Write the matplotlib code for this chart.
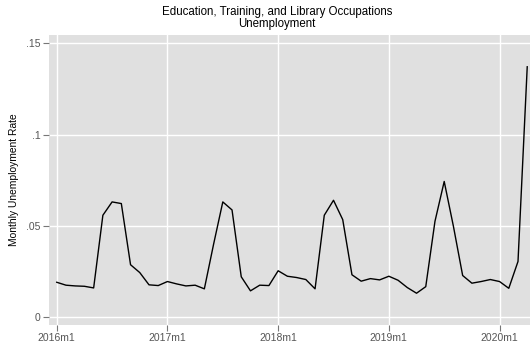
import matplotlib
matplotlib.use("Agg")
import matplotlib.pyplot as plt
import numpy as np

plt.rcParams['font.family'] = ['Liberation Sans', 'DejaVu Sans']

title = "Education, Training, and Library Occupations\nUnemployment"
ylabel = "Monthly Unemployment Rate"
xtick_labels = ["2016m1", "2017m1", "2018m1", "2019m1", "2020m1"]
ytick_values = [0, 0.05, 0.10, 0.15]
ytick_labels = ["0", ".05", ".1", ".15"]

rate = [0.0192, 0.0176, 0.0172, 0.0170, 0.0161, 0.0559, 0.0632, 0.0623,
        0.0288, 0.0245, 0.0178, 0.0174, 0.0196, 0.0183, 0.0172, 0.0176,
        0.0156, 0.0400, 0.0632, 0.0588, 0.0222, 0.0145, 0.0176, 0.0174,
        0.0255, 0.0225, 0.0218, 0.0207, 0.0156, 0.0559, 0.0641, 0.0535,
        0.0233, 0.0198, 0.0212, 0.0205, 0.0225, 0.0203, 0.0163, 0.0132,
        0.0168, 0.0526, 0.0744, 0.0498, 0.0229, 0.0187, 0.0196, 0.0207,
        0.0196, 0.0159, 0.0306, 0.1372]
months = np.arange(len(rate))

fig = plt.figure(figsize=(5.30, 3.47), dpi=100)
ax = fig.add_axes([49/530, 22/347, 481/530, 290/347])
ax.set_facecolor('#e0e0e0')
ax.plot(months, rate, color='black', linewidth=1.0)

ax.set_xlim(-0.84, 51.3)
ax.set_ylim(-0.0042, 0.1546)
ax.set_xticks([0, 12, 24, 36, 48])
ax.set_xticklabels(xtick_labels)
ax.set_yticks(ytick_values)
ax.set_yticklabels(ytick_labels)
ax.grid(True, color='white', linewidth=1.0)
ax.set_axisbelow(True)
for s in ax.spines.values():
    s.set_visible(False)
ax.tick_params(axis='both', colors='#777777', labelcolor='#555555', labelsize=7.5,
               length=4, width=0.8, pad=2)
ax.set_ylabel(ylabel, fontsize=7.4, color='black')
ax.yaxis.set_label_coords((19 - 49) / 481, 0.5)
fig.text(277/530, 1 - 18/347, title, ha='center', va='center', fontsize=8.3,
         linespacing=0.95)
fig.savefig("out.png", dpi=100)
